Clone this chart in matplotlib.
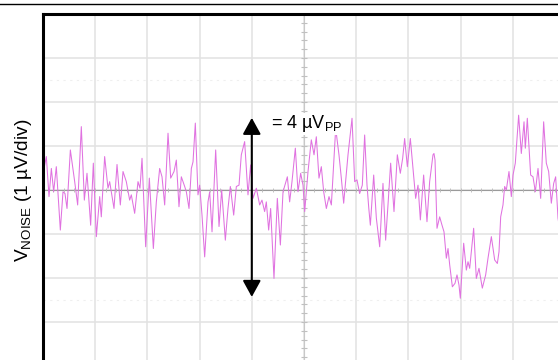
import numpy as np
import matplotlib
matplotlib.use("Agg")
import matplotlib.pyplot as plt
from matplotlib.lines import Line2D

# Noise trace: time in divisions, voltage in uV
t_div = [
    0.030, 0.064, 0.115, 0.160, 0.204, 0.255, 0.332, 0.383, 0.421, 0.460,
    0.524, 0.607, 0.664, 0.734, 0.792, 0.843, 0.913, 0.964, 1.022, 1.086,
    1.117, 1.181, 1.245,
    1.277, 1.360, 1.418, 1.481, 1.533, 1.596, 1.660, 1.692, 1.756, 1.820,
    1.858, 1.897, 1.967, 2.037, 2.114, 2.171, 2.235, 2.280, 2.331, 2.395,
    2.446, 2.510,
    2.554, 2.605, 2.650, 2.714, 2.746, 2.797, 2.842, 2.874, 2.918, 2.969,
    3.001, 3.046, 3.097, 3.161, 3.193, 3.238, 3.308, 3.372, 3.423, 3.493,
    3.544, 3.589, 3.653, 3.704, 3.755,
    3.799, 3.863, 3.927, 3.978, 4.023, 4.087, 4.151, 4.195, 4.246, 4.278,
    4.323, 4.361, 4.425, 4.489, 4.547, 4.598, 4.681, 4.725, 4.770, 4.834,
    4.885, 4.936, 4.981,
    5.013, 5.077, 5.140, 5.192, 5.236, 5.287, 5.332, 5.377, 5.428, 5.479,
    5.524, 5.607, 5.670, 5.715, 5.760, 5.843, 5.920, 5.971, 6.015, 6.066,
    6.117, 6.162, 6.207,
    6.240, 6.271, 6.335, 6.386, 6.450, 6.513, 6.564, 6.609, 6.660, 6.724,
    6.788, 6.845, 6.890, 6.928, 6.980, 7.037, 7.088, 7.139, 7.184, 7.229,
    7.292, 7.356, 7.407, 7.471,
    7.490, 7.510, 7.548, 7.599, 7.644, 7.682, 7.727, 7.759, 7.791, 7.842,
    7.893, 7.931, 7.969, 7.995, 8.059, 8.110, 8.142, 8.174, 8.250, 8.301,
    8.352, 8.416, 8.480, 8.525, 8.589, 8.653, 8.704, 8.736,
    8.768, 8.812, 8.844, 8.876, 8.927, 8.972, 9.004, 9.048, 9.112, 9.163,
    9.215, 9.240, 9.278, 9.342, 9.387, 9.432, 9.483, 9.534, 9.591, 9.642,
    9.687, 9.738, 9.783, 9.821, 9.866, 9.900,
]
v_uv = [
    0.55, 0.76, -0.15, 0.49, -0.04, 0.53, -0.91, -0.04, -0.08, -0.42,
    0.91, 0.19, -0.34, 1.44, -0.23, 0.38, -0.80, 0.61, -1.06, -0.15,
    -0.61, 0.76, 0.04,
    0.19, -0.42, 0.58, -0.34, 0.42, 0.19, -0.23, -0.11, -0.53, 0.19,
    0.04, 0.72, -1.29, 0.27, -1.33, -0.27, 0.49, 0.30, -0.34, 1.29,
    0.27, 0.42,
    0.68, -0.38, 0.30, 0.08, -0.04, -0.42, 0.49, 0.64, 1.52, -0.11,
    0.11, -0.57, -1.52, -0.27, -0.04, -0.95, 0.91, -0.83, 0.00, -1.14,
    -0.42, 0.08, -0.57, 0.08, 0.11,
    0.80, 1.10, -0.11, 0.57, -0.19, 0.04, -0.34, -0.23, -0.49, -0.27,
    -0.91, -0.42, -2.01, -0.19, -1.25, -0.04, 0.30, -0.27, 0.19, 0.95,
    -0.04, 0.38, 0.11,
    -0.49, 0.42, 1.14, 0.80, 1.21, 0.27, 0.53, -0.04, -0.42, -0.15,
    -0.34, 1.40, 0.80, 0.27, -0.30, 0.80, 1.63, 0.19, 0.23, -0.08,
    0.11, 1.25, 0.11,
    -0.40, -0.80, 0.34, -0.64, -1.29, 0.15, -1.14, -0.34, 0.61, -0.49,
    0.80, 0.38, 0.72, 1.17, 0.53, 1.17, 0.49, -0.19, 0.11, -0.68,
    0.34, -0.72, 0.19, 0.80,
    0.83, 0.68, -0.87, -0.61, -0.80, -0.95, -1.55, -1.33, -1.70, -2.20,
    -2.12, -1.93, -2.16, -2.46, -1.21, -1.82, -1.63, -1.78, -0.87, -2.01,
    -1.78, -2.23, -1.93, -1.55, -1.06, -1.59, -1.67, -1.40,
    -0.61, -0.34, 0.08, 0.00, 0.42, -0.15, 0.34, 0.61, 1.70, 0.83,
    1.55, 0.95, 1.63, 0.34, 0.30, -0.04, 0.49, -0.19, 1.55, 0.61,
    0.42, -0.30, 0.15, 0.30, -0.64, -0.90,
]

# Peak-to-peak marker
arrow_x = 4.0
arrow_top = 1.64
arrow_bottom = -2.43
pp_label = "= 4 µV$_{\\mathrm{PP}}$"
y_label = "V$_{\\mathrm{NOISE}}$ (1 µV/div)"


def main():
    plt.rcParams['font.family'] = ['Liberation Sans', 'DejaVu Sans']
    plt.rcParams['mathtext.fontset'] = 'custom'
    plt.rcParams['mathtext.rm'] = 'Liberation Sans'

    fig = plt.figure(figsize=(5.58, 3.6), dpi=100)
    # scope screen is cropped on the right and bottom
    ax = fig.add_axes([43 / 558, -6 / 360, 522 / 558, 352 / 360])
    ax.set_xlim(0, 10)
    ax.set_ylim(-4, 4)

    # 1. graticule
    for x in range(1, 10):
        ax.axvline(x, color='#e2e2e2', lw=1.1, zorder=0)
    for y in range(-3, 4):
        ax.axhline(y, color='#e2e2e2', lw=1.1, zorder=0)
    for y in (-2.5, 2.5):
        ax.axhline(y, color='#efefef', lw=0.8, ls=(0, (2, 4)), zorder=0)
    ax.axhline(0, color='#9a9a9a', lw=0.8, zorder=1)
    ax.axvline(5, color='#c8c8c8', lw=0.8, zorder=1)
    minor = np.arange(-4, 4.01, 0.2)
    ax.plot(np.full_like(minor, 5), minor, ls='none', marker='_', ms=4,
            color='#c0c0c0', mew=0.8, zorder=1)
    minor_x = np.arange(0, 10.01, 0.2)
    ax.plot(minor_x, np.zeros_like(minor_x), ls='none', marker='|', ms=3,
            color='#b8b8b8', mew=0.6, zorder=1)

    # 2. noise trace
    ax.plot(t_div, v_uv, color='#e072e0', lw=0.75, zorder=2)

    # 3. peak-to-peak arrow and label
    ax.annotate('', xy=(arrow_x, arrow_top), xytext=(arrow_x, arrow_bottom),
                arrowprops=dict(arrowstyle='<|-|>,head_length=1.0,head_width=0.55',
                                mutation_scale=10, lw=1.5, color='black',
                                shrinkA=0, shrinkB=0), zorder=4)
    ax.text(4.36, 1.40, pp_label, fontsize=13, ha='left', va='baseline',
            bbox=dict(facecolor='white', edgecolor='none', pad=0.5), zorder=3)

    ax.set_xticks([])
    ax.set_yticks([])
    for side in ('right', 'bottom'):
        ax.spines[side].set_visible(False)
    for side in ('left', 'top'):
        ax.spines[side].set_linewidth(2.2)

    fig.text(23 / 558, 1 - 190 / 360, y_label, rotation=90, fontsize=13.8,
             ha='center', va='center')
    fig.add_artist(Line2D([0, 1], [1 - 3.5 / 360] * 2, color='black', lw=1.0))

    plt.savefig('out.png', dpi=100)
    plt.close()


if __name__ == "__main__":
    main()
